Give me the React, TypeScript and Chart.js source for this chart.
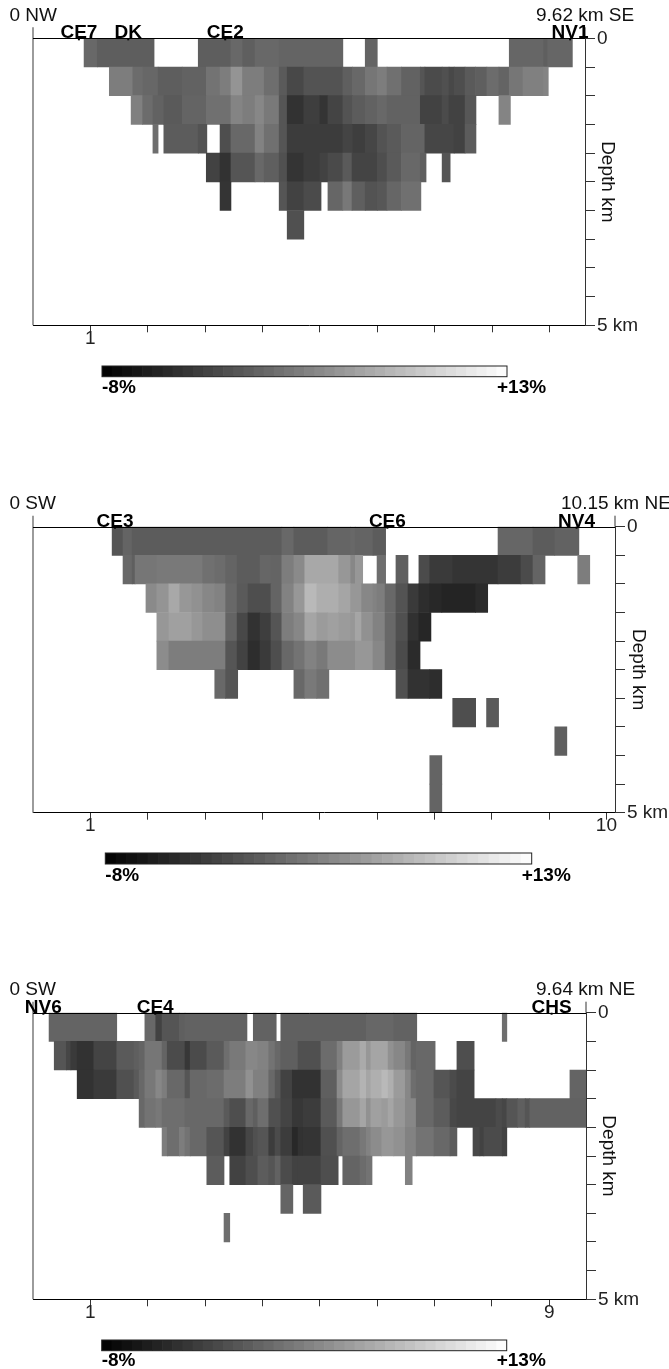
import React, { useEffect, useRef } from "react";
import { Chart, registerables } from "chart.js";

Chart.register(...registerables);

type Cell = [number, number, number]; // start km, end km, anomaly %

// ---------- Section 1 (NW - SE, 9.62 km)
const s1r0: Cell[] = [[.89,1.12,.6],[1.12,2.11,-.3],[2.88,3.45,-.3],[3.45,3.65,.6],[3.65,3.87,-.2],[3.87,4.29,.6],[4.29,5.40,.2],[5.79,6.00,.2],[8.30,8.90,.4],[8.90,8.97,-.2],[8.97,9.40,.4]];
const s1r1: Cell[] = [[1.33,1.74,2.3],[1.74,1.91,.9],[1.91,2.18,.5],[2.18,2.60,-.3],[2.60,3.02,.1],[3.02,3.26,1.5],[3.26,3.45,2.3],[3.45,3.65,4.2],[3.65,4.03,2.3],[4.03,4.29,1.1],[4.29,4.43,-.6],[4.43,4.72,-2.1],[4.72,5.40,-1.2],[5.40,5.57,-.2],[5.57,5.79,.6],[5.79,6.00,1.7],[6.00,6.17,2.3],[6.17,6.42,1.2],[6.42,6.75,.1],[6.75,6.83,-1.0],[6.83,7.13,-1.8],[7.13,7.25,-1.4],[7.25,7.34,-2.1],[7.34,7.53,-1.6],[7.53,7.71,-.6],[7.71,7.91,-.2],[7.91,8.12,.9],[8.12,8.30,.2],[8.30,8.54,1.7],[8.54,8.90,2.5],[8.90,8.98,2.9]];
const s1r2: Cell[] = [[1.71,1.91,2.5],[1.91,2.09,.9],[2.09,2.28,.1],[2.28,2.60,-.6],[2.60,3.02,.2],[3.02,3.45,1.2],[3.45,3.65,2.9],[3.65,3.87,2.3],[3.87,4.03,3.1],[4.03,4.29,2.0],[4.29,4.43,-1.0],[4.43,4.72,-3.9],[4.72,5.00,-2.9],[5.00,5.14,-3.7],[5.14,5.40,-2.4],[5.40,5.57,-1.2],[5.57,5.79,-.4],[5.79,6.00,.1],[6.00,6.17,.6],[6.17,6.75,.1],[6.75,7.13,-2.6],[7.13,7.25,-1.8],[7.25,7.53,-2.6],[7.53,7.72,-.8],[8.12,8.32,2.9]];
const s1r3: Cell[] = [[2.09,2.18,1.1],[2.28,2.88,-.4],[2.88,3.03,-1.2],[3.26,3.45,-1.6],[3.45,3.87,.6],[3.87,4.03,2.7],[4.03,4.29,1.2],[4.29,4.43,-1.0],[4.43,5.40,-3.1],[5.40,5.57,-2.4],[5.57,5.79,-2.9],[5.79,6.00,-2.2],[6.00,6.17,-1.2],[6.17,6.42,-.6],[6.42,6.83,.2],[6.83,7.34,-2.2],[7.34,7.53,-2.6],[7.53,7.72,-.4]];
const s1r4: Cell[] = [[3.02,3.26,-2.6],[3.26,3.45,-3.9],[3.45,3.87,-1.0],[3.87,4.03,.6],[4.03,4.29,-.2],[4.29,4.43,-1.4],[4.43,4.72,-3.7],[4.72,5.00,-3.1],[5.00,5.14,-2.6],[5.14,5.40,-1.9],[5.40,5.56,-.6],[5.56,6.00,-2.4],[6.00,6.17,-1.6],[6.17,6.42,-.6],[6.42,6.75,.6],[6.75,6.85,-.2],[7.13,7.27,-1.0]];
const s1r5: Cell[] = [[3.26,3.45,-3.7],[4.29,4.43,-1.0],[4.43,4.72,-2.6],[4.72,5.02,-1.8],[5.14,5.40,.4],[5.40,5.56,1.9],[5.56,5.79,-.2],[5.79,6.00,-1.2],[6.00,6.17,-.8],[6.17,6.42,.4],[6.42,6.76,1.2]];
const s1r6: Cell[] = [[4.43,4.72,-1.4]];
const section1Rows = [s1r0, s1r1, s1r2, s1r3, s1r4, s1r5, s1r6];

// ---------- Section 2 (SW - NE, 10.15 km)
const s2r0: Cell[] = [[1.38,1.57,-1.0],[1.57,1.73,.2],[1.73,4.34,-.4],[4.34,4.55,.6],[4.55,5.14,-.4],[5.14,5.54,.3],[5.54,5.62,.6],[5.62,5.93,.2],[5.93,6.15,-.4],[8.11,8.72,.4],[8.72,9.10,-.4],[9.10,9.52,.1]];
const s2r1: Cell[] = [[1.57,1.73,.6],[1.73,1.78,-.2],[1.78,2.16,1.7],[2.16,2.96,2.0],[2.96,3.17,1.2],[3.17,3.36,.9],[3.36,3.56,.2],[3.56,3.96,-.4],[3.96,4.15,.4],[4.15,4.34,.2],[4.34,4.55,2.3],[4.55,4.74,3.4],[4.74,5.33,5.8],[5.33,5.54,4.4],[5.54,5.62,3.1],[5.62,5.75,4.4],[6.00,6.15,1.1],[6.33,6.54,-.2],[6.73,6.92,-1.8],[6.92,7.32,-3.2],[7.32,8.11,-3.7],[8.11,8.51,-3.1],[8.51,8.72,-1.8],[8.72,8.93,.2],[9.50,9.71,2.3]];
const s2r2: Cell[] = [[1.97,2.16,3.4],[2.16,2.37,4.2],[2.37,2.56,5.8],[2.56,2.77,4.4],[2.77,2.96,3.9],[2.96,3.17,3.1],[3.17,3.36,2.7],[3.36,3.56,.6],[3.56,3.75,-.6],[3.75,4.15,-1.6],[4.15,4.34,.2],[4.34,4.55,2.7],[4.55,4.74,4.4],[4.74,4.95,7.2],[4.95,5.33,6.3],[5.33,5.54,5.6],[5.54,5.73,4.4],[5.73,5.93,3.1],[5.93,6.00,2.7],[6.00,6.14,2.3],[6.14,6.33,.6],[6.33,6.54,-1.2],[6.54,6.73,-3.2],[6.73,6.92,-4.3],[6.92,7.13,-4.7],[7.13,7.72,-5.0],[7.72,7.93,-4.5]];
const s2r3: Cell[] = [[2.16,2.37,4.4],[2.37,2.77,5.2],[2.77,2.96,4.4],[2.96,3.36,3.7],[3.36,3.56,.2],[3.56,3.75,-2.1],[3.75,3.96,-3.9],[3.96,4.15,-2.9],[4.15,4.34,-1.0],[4.34,4.55,2.3],[4.55,4.74,3.1],[4.74,4.95,5.6],[4.95,5.14,4.8],[5.14,5.33,5.2],[5.33,5.54,4.8],[5.54,5.62,4.4],[5.62,5.73,5.6],[5.73,5.93,3.9],[5.93,6.14,2.7],[6.14,6.33,.6],[6.33,6.54,-1.4],[6.54,6.73,-4.0],[6.73,6.94,-4.9]];
const s2r4: Cell[] = [[2.16,2.37,3.5],[2.37,3.36,2.3],[3.36,3.56,-1.0],[3.56,3.75,-2.6],[3.75,3.96,-4.3],[3.96,4.15,-3.2],[4.15,4.34,-1.6],[4.34,4.55,.6],[4.55,4.74,1.5],[4.74,4.95,2.7],[4.95,5.14,2.0],[5.14,5.62,3.5],[5.62,5.93,4.4],[5.93,6.14,3.1],[6.14,6.33,.6],[6.33,6.54,-1.8],[6.54,6.75,-4.5]];
const s2r5: Cell[] = [[3.17,3.36,.6],[3.36,3.57,-1.0],[4.55,4.74,.6],[4.74,4.95,2.0],[4.95,5.16,1.2],[6.33,6.54,-1.4],[6.54,6.92,-3.9],[6.92,7.13,-4.3]];
const s2r6: Cell[] = [[7.32,7.72,-1.6],[7.91,8.12,-.6]];
const s2r7: Cell[] = [[9.10,9.31,-.2]];
const s2r8: Cell[] = [[6.92,7.13,.2]];
const s2r9: Cell[] = [[6.92,7.13,.2]];
const section2Rows = [s2r0, s2r1, s2r2, s2r3, s2r4, s2r5, s2r6, s2r7, s2r8, s2r9];

// ---------- Section 3 (SW - NE, 9.64 km)
const s3r0: Cell[] = [[.28,1.46,.2],[1.95,2.14,.6],[2.14,2.25,-2.6],[2.25,2.55,-1.0],[2.55,2.65,-.2],[2.65,3.73,.1],[3.84,4.24,.1],[4.32,5.81,-.1],[5.81,6.29,.5],[6.29,6.69,.1],[8.18,8.26,1.1]];
const s3r1: Cell[] = [[.37,.58,-1.0],[.58,.66,-2.2],[.66,.77,-3.2],[.77,1.06,-3.9],[1.06,1.46,-2.4],[1.46,1.76,-.6],[1.76,1.85,-.2],[1.85,1.95,.2],[1.95,2.25,1.7],[2.25,2.34,.2],[2.34,2.65,-1.8],[2.65,2.74,-3.5],[2.74,3.03,-1.8],[3.03,3.33,-.6],[3.33,3.43,1.1],[3.43,3.71,2.0],[3.71,3.92,3.1],[3.92,4.11,2.7],[4.11,4.22,1.5],[4.22,4.32,.6],[4.32,4.62,-.2],[4.62,5.02,-1.4],[5.02,5.30,.9],[5.30,5.40,2.5],[5.40,5.70,4.8],[5.70,5.81,6.0],[5.81,5.89,4.4],[5.89,6.19,5.6],[6.19,6.29,3.9],[6.29,6.49,3.1],[6.49,6.59,1.9],[6.59,6.68,.2],[6.68,7.01,.6],[7.39,7.69,-1.6]];
const s3r2: Cell[] = [[.77,1.06,-3.9],[1.06,1.46,-3.2],[1.46,1.76,-1.4],[1.76,1.85,-.6],[1.85,1.95,.6],[1.95,2.14,1.9],[2.14,2.25,3.1],[2.25,2.34,2.3],[2.34,2.65,.6],[2.65,2.74,-1.0],[2.74,3.03,.6],[3.03,3.33,.9],[3.33,3.71,2.3],[3.71,3.84,3.9],[3.84,4.11,2.5],[4.11,4.22,.6],[4.22,4.32,-.8],[4.32,4.52,-2.6],[4.52,5.02,-3.9],[5.02,5.30,-.2],[5.30,5.40,3.5],[5.40,5.70,5.6],[5.70,5.81,6.7],[5.81,5.89,5.6],[5.89,6.08,6.4],[6.08,6.19,7.2],[6.19,6.29,6.4],[6.29,6.49,4.8],[6.49,6.59,3.1],[6.59,6.68,1.1],[6.68,6.99,.6],[6.99,7.27,-1.0],[7.27,7.39,-1.8],[7.39,7.69,-2.4],[9.36,9.64,.2]];
const s3r3: Cell[] = [[1.85,1.95,.6],[1.95,2.14,1.5],[2.14,2.25,1.9],[2.25,2.65,1.1],[2.65,3.33,.6],[3.33,3.43,-.6],[3.43,3.71,-1.6],[3.71,3.84,.6],[3.84,3.92,-.2],[3.92,4.11,1.1],[4.11,4.32,-1.4],[4.32,4.52,-2.4],[4.52,4.71,-3.5],[4.71,5.02,-3.1],[5.02,5.30,-.6],[5.30,5.40,1.9],[5.40,5.70,4.4],[5.70,5.81,5.6],[5.81,5.89,3.9],[5.89,6.08,5.2],[6.08,6.19,4.8],[6.19,6.29,5.6],[6.29,6.49,4.4],[6.49,6.68,3.1],[6.68,6.99,.6],[6.99,7.27,-.4],[7.27,7.39,-2.1],[7.39,8.07,-2.4],[8.07,8.18,-1.8],[8.18,8.26,-2.2],[8.26,8.45,-1.0],[8.45,8.58,-.2],[8.58,8.66,-1.0],[8.66,9.64,.1]];
const s3r4: Cell[] = [[2.25,2.34,2.3],[2.34,2.55,1.1],[2.55,2.65,2.3],[2.65,2.74,1.5],[2.74,3.03,.6],[3.03,3.33,-1.0],[3.33,3.43,-2.6],[3.43,3.71,-3.9],[3.71,3.84,-2.2],[3.84,3.92,-1.4],[3.92,4.11,-1.0],[4.11,4.22,-3.1],[4.22,4.32,-1.8],[4.32,4.52,-3.1],[4.52,4.62,-4.7],[4.62,4.71,-3.9],[4.71,5.02,-3.7],[5.02,5.30,-1.4],[5.30,5.40,.2],[5.40,5.70,1.1],[5.70,5.81,1.9],[5.81,5.89,2.7],[5.89,6.08,3.5],[6.08,6.29,4.4],[6.29,6.49,3.9],[6.49,6.68,2.7],[6.68,6.99,1.5],[6.99,7.27,.6],[7.27,7.39,-.4],[7.67,7.79,-2.1],[7.79,7.86,-2.6],[7.86,8.18,-1.8],[8.18,8.26,-2.6]];
const s3r5: Cell[] = [[3.03,3.33,-.4],[3.43,3.71,-2.6],[3.71,3.92,-1.6],[3.92,4.11,-.4],[4.11,4.22,-1.0],[4.22,4.32,.1],[4.32,4.52,-1.8],[4.52,4.62,-2.6],[4.62,5.02,-2.6],[5.02,5.32,-1.6],[5.40,5.70,.2],[5.70,5.81,.9],[5.81,5.91,1.5],[6.49,6.61,2.7]];
const s3r6: Cell[] = [[4.32,4.53,.2],[4.71,5.02,-.6]];
const s3r7: Cell[] = [[3.33,3.43,1.1]];
const section3Rows = [s3r0, s3r1, s3r2, s3r3, s3r4, s3r5, s3r6, s3r7];

// ---------- Depth rows (centre of each 0.5 km layer)
const rowDepths = [.25, .75, 1.25, 1.75, 2.25, 2.75, 3.25, 3.75, 4.25, 4.75];

// ---------- Stations
const s1StationNames = ["CE7", "DK", "CE2", "NV1"];
const s1StationKm = [0.8, 1.66, 3.35, 9.36];
const s2StationNames = ["CE3", "CE6", "NV4"];
const s2StationKm = [1.43, 6.18, 9.48];
const s3StationNames = ["NV6", "CE4", "CHS"];
const s3StationKm = [0.18, 2.13, 9.04];

// ---------- Colour bar band edges (%)
const bandEdges = [-8,-7.475,-6.95,-6.425,-5.9,-5.375,-4.85,-4.325,-3.8,-3.275,-2.75,-2.225,-1.7,-1.175,-.65,-.125,.4,.925,1.45,1.975,2.5,3.025,3.55,4.075,4.6,5.125,5.65,6.175,6.7,7.225,7.75,8.275,8.8,9.325,9.85,10.375,10.9,11.425,11.95,12.475,13];

const xLabels1 = [1];
const xLabels2 = [1, 10];
const xLabels3 = [1, 9];

const FONT = '"Liberation Sans", Arial, sans-serif';
const CANVAS_W = 669;

function grey(v: number) {
  const g = Math.max(0, Math.min(255, Math.round(((v + 8) / 21) * 255)));
  return `rgb(${g},${g},${g})`;
}

const sections = [
  { rows: section1Rows, length: 9.62, startLabel: "0 NW", endLabel: "9.62 km SE", endLabelX: 536, names: s1StationNames, km: s1StationKm, xLabels: xLabels1,
    canvasTop: 0, top: 38.3, bottom: 325.3, right: 585, depthX: 607, height: 350 },
  { rows: section2Rows, length: 10.15, startLabel: "0 SW", endLabel: "10.15 km NE", endLabelX: 561, names: s2StationNames, km: s2StationKm, xLabels: xLabels2,
    canvasTop: 488, top: 38.7, bottom: 324.7, right: 615, depthX: 638, height: 350 },
  { rows: section3Rows, length: 9.64, startLabel: "0 SW", endLabel: "9.64 km NE", endLabelX: 536, names: s3StationNames, km: s3StationKm, xLabels: xLabels3,
    canvasTop: 974, top: 38.7, bottom: 325.3, right: 586, depthX: 608, height: 350 },
];

const bars = [
  { left: 102, right: 507, top: 366, height: 10.7, labelDrop: 26.5 },
  { left: 105.3, right: 531.7, top: 853.3, height: 11, labelDrop: 27.7 },
  { left: 101.7, right: 506.7, top: 1340, height: 10.7, labelDrop: 26 },
];

function Section({ cfg }: { cfg: (typeof sections)[number] }) {
  const ref = useRef<HTMLCanvasElement>(null);
  useEffect(() => {
    const cells: { x: [number, number]; y: number; v: number }[] = [];
    cfg.rows.forEach((row, i) => row.forEach((c) => cells.push({ x: [c[0], c[1]], y: rowDepths[i], v: c[2] })));
    const extras = {
      id: "sectionExtras",
      afterDraw(chart: any) {
        const { ctx, chartArea: a, scales } = chart;
        ctx.save();
        // left axis + upward extension
        ctx.strokeStyle = "#666";
        ctx.lineWidth = 1.3;
        ctx.beginPath();
        ctx.moveTo(a.left, a.top - 11);
        ctx.lineTo(a.left, a.bottom);
        ctx.stroke();
        // right axis extension
        ctx.strokeStyle = "#333";
        ctx.lineWidth = 1;
        ctx.beginPath();
        ctx.moveTo(a.right, a.top - 11);
        ctx.lineTo(a.right, a.top);
        ctx.stroke();
        // top axis
        ctx.strokeStyle = "#000";
        ctx.beginPath();
        ctx.moveTo(a.left, Math.round(a.top) + 0.5);
        ctx.lineTo(a.right, Math.round(a.top) + 0.5);
        ctx.stroke();
        // stations
        ctx.fillStyle = "#000";
        ctx.font = `bold 19px ${FONT}`;
        ctx.textAlign = "center";
        ctx.textBaseline = "alphabetic";
        cfg.names.forEach((name, i) => {
          const x = scales.x.getPixelForValue(cfg.km[i]);
          ctx.fillText(name, x, a.top);
          ctx.fillRect(x - 1, a.top, 2, 2);
        });
        // end labels
        ctx.fillStyle = "#111";
        ctx.font = `19px ${FONT}`;
        ctx.textAlign = "left";
        ctx.fillText(cfg.startLabel, 9.5, a.top - 17.3);
        ctx.fillText(cfg.endLabel, cfg.endLabelX, a.top - 17.3);
        ctx.restore();
      },
    };
    const chart = new Chart(ref.current!, {
      type: "bar",
      data: {
        datasets: [
          {
            data: cells as any,
            backgroundColor: cells.map((c) => grey(c.v)),
            borderWidth: 0,
            barPercentage: 1,
            categoryPercentage: 1,
          },
        ],
      },
      plugins: [extras],
      options: {
        indexAxis: "y",
        animation: false,
        responsive: false,
        devicePixelRatio: 1,
        layout: {
          padding: { left: 33, top: cfg.top, right: 0, bottom: 0 },
        },
        plugins: { legend: { display: false }, tooltip: { enabled: false }, title: { display: false } },
        scales: {
          x: {
            type: "linear",
            min: 0,
            max: cfg.length,
            beginAtZero: false,
            afterFit(s: any) {
              s.height = cfg.height - cfg.bottom;
            },
            afterBuildTicks(s: any) {
              s.ticks = s.ticks.filter((t: any) => t.value >= 1);
            },
            border: { display: true, color: "#000", width: 1, z: 1 },
            grid: { drawOnChartArea: false, drawTicks: true, tickLength: 7, color: "#333", offset: false },
            ticks: {
              stepSize: 1,
              includeBounds: false,
              autoSkip: false,
              maxRotation: 0,
              padding: -5,
              color: "#222",
              font: { family: FONT, size: 19 },
              callback: (v: any) => (cfg.xLabels.includes(Number(v)) ? String(v) : ""),
            },
          },
          y: {
            type: "linear",
            position: "right",
            reverse: true,
            min: 0,
            max: 5,
            offset: false,
            afterFit(s: any) {
              s.width = CANVAS_W - cfg.right;
            },
            border: { display: true, color: "#333", width: 1, z: 1 },
            grid: { drawOnChartArea: false, drawTicks: true, tickLength: 10, color: "#333", offset: false },
            title: {
              display: true,
              text: "Depth km",
              color: "#111",
              padding: { top: CANVAS_W - cfg.depthX - 11.4, bottom: 0 },
              font: { family: FONT, size: 19 },
            },
            ticks: {
              stepSize: 0.5,
              autoSkip: false,
              padding: 2,
              color: "#222",
              font: { family: FONT, size: 19 },
              callback: (v: any) => (Number(v) === 0 ? "0" : Number(v) === 5 ? "5 km" : ""),
            },
          },
        },
      } as any,
    });
    return () => chart.destroy();
  }, [cfg]);
  return (
    <canvas
      ref={ref}
      width={CANVAS_W}
      height={cfg.height}
      style={{ position: "absolute", left: 0, top: cfg.canvasTop, display: "block" }}
    />
  );
}

function ColorBar({ cfg }: { cfg: (typeof bars)[number] }) {
  const ref = useRef<HTMLCanvasElement>(null);
  const H = 50;
  const pad = 4;
  useEffect(() => {
    const bands = bandEdges.slice(0, -1).map((e, i) => ({ x: [e, bandEdges[i + 1]], y: "scale" }));
    const extras = {
      id: "barExtras",
      afterDraw(chart: any) {
        const { ctx, chartArea: a, scales } = chart;
        ctx.save();
        ctx.strokeStyle = "#222";
        ctx.lineWidth = 1;
        ctx.strokeRect(a.left, a.top, a.right - a.left, a.bottom - a.top);
        ctx.fillStyle = "#000";
        ctx.font = `bold 19px ${FONT}`;
        ctx.textAlign = "left";
        ctx.textBaseline = "alphabetic";
        ctx.fillText("-8%", scales.x.getPixelForValue(-8), a.top + cfg.labelDrop);
        ctx.fillText("+13%", scales.x.getPixelForValue(13) - 10, a.top + cfg.labelDrop);
        ctx.restore();
      },
    };
    const chart = new Chart(ref.current!, {
      type: "bar",
      data: {
        labels: ["scale"],
        datasets: [
          {
            data: bands as any,
            backgroundColor: bands.map((b) => grey((b.x[0] + b.x[1]) / 2)),
            borderWidth: 0,
            barPercentage: 1,
            categoryPercentage: 1,
          },
        ],
      },
      plugins: [extras],
      options: {
        indexAxis: "y",
        animation: false,
        responsive: false,
        devicePixelRatio: 1,
        layout: { padding: { left: cfg.left, right: CANVAS_W - cfg.right, top: pad, bottom: H - pad - cfg.height } },
        plugins: { legend: { display: false }, tooltip: { enabled: false } },
        scales: {
          x: { type: "linear", min: -8, max: 13, display: false },
          y: { type: "category", display: false },
        },
      } as any,
    });
    return () => chart.destroy();
  }, [cfg]);
  return (
    <canvas
      ref={ref}
      width={CANVAS_W}
      height={H}
      style={{ position: "absolute", left: 0, top: cfg.top - pad, display: "block" }}
    />
  );
}

export default function App() {
  return (
    <div style={{ position: "absolute", left: 0, top: 0, width: 669, height: 1369, background: "#fff", overflow: "hidden" }}>
      {sections.map((s, i) => (
        <Section key={i} cfg={s} />
      ))}
      {bars.map((b, i) => (
        <ColorBar key={i} cfg={b} />
      ))}
    </div>
  );
}
